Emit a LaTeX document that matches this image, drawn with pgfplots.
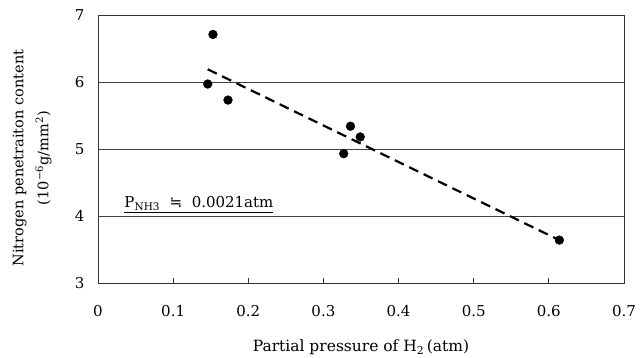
\documentclass[border=0pt]{standalone}
\usepackage{pgfplots}
\pgfplotsset{compat=1.18}
\usepackage{fontspec}
\setmainfont{DejaVu Serif}
\newfontfamily\symfont{DejaVu Sans}
\begin{document}
\begin{tikzpicture}
\useasboundingbox (-98pt,-75pt) rectangle (545pt,283pt);
\begin{axis}[
  scale only axis, width=526pt, height=268pt,
  xmin=0, xmax=0.7, ymin=3, ymax=7,
  xtick={0,0.1,0.2,0.3,0.4,0.5,0.6,0.7},
  xticklabels={0,0.1,0.2,0.3,0.4,0.5,0.6,0.7},
  ytick={3,4,5,6,7},
  ymajorgrids, grid style={black!75, line width=0.6pt},
  axis line style={black!80, line width=0.8pt},
  tick align=inside, xtick pos=bottom, ytick pos=left,
  major tick length=5pt,
  x tick style={black!80, line width=0.8pt},
  y tick style={draw=none},
  ticklabel style={font=\fontsize{15}{17}\selectfont},
  xticklabel style={yshift=-19pt},
  yticklabel style={xshift=-10pt},
  /pgf/number format/assume math mode=true,
  xlabel={Partial pressure of H\textsubscript{2}\,(atm)},
  ylabel={Nitrogen penetraiton content\\(10\textsuperscript{−6}g/mm\textsuperscript{2})},
  x label style={at={(axis description cs:0.5,-0.239)}, anchor=center, font=\fontsize{15.5}{17}\selectfont},
  y label style={at={(axis description cs:-0.125,0.466)}, anchor=center, align=center, font=\fontsize{14.5}{25}\selectfont},
  clip=false,
]
\addplot[only marks, mark=*, mark size=4.4pt, black] coordinates {
  (0.146,5.97) (0.153,6.71) (0.173,5.73) (0.327,4.93) (0.336,5.34) (0.349,5.18) (0.614,3.64)
};
\addplot[black, line width=2.2pt, dash pattern=on 10pt off 6pt] coordinates {
  (0.146,6.19) (0.614,3.64)
};
\node[anchor=base west, font=\fontsize{15}{17}\selectfont, inner sep=0pt] at (axis cs:0.035,4.12)
  {\underline{P\textsubscript{NH3}\ \ {\symfont ≒}\ \ 0.0021atm}};
\end{axis}
\end{tikzpicture}
\end{document}
